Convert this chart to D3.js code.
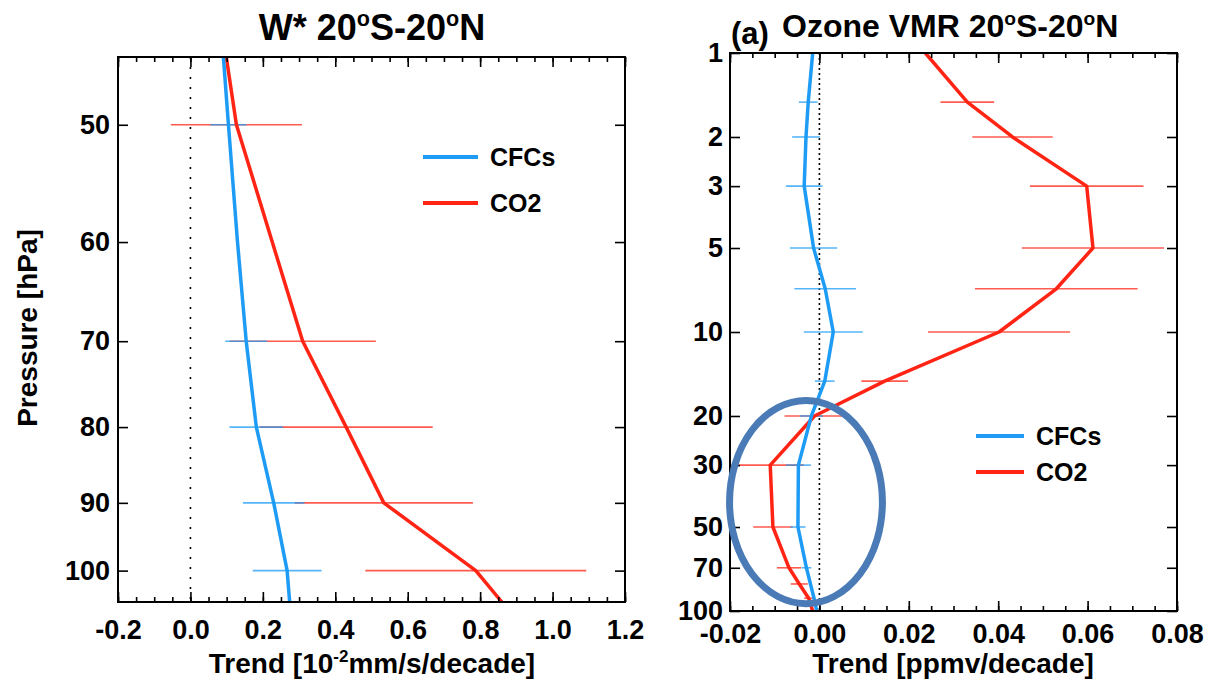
<!DOCTYPE html>
<html>
<head>
<meta charset="utf-8">
<script src="https://cdn.jsdelivr.net/npm/d3@7/dist/d3.min.js"></script>
<style>
  html, body { margin: 0; padding: 0; background: #fff; }
  svg { display: block; font-family: "Liberation Sans", Arial, Helvetica, sans-serif; font-weight: bold; }
</style>
</head>
<body>
<svg id="chart" width="1205" height="681"></svg>
<script>
// --- W* panel (left) ---
const wLevels = [45, 50, 60, 70, 80, 90, 100, 105];
const wCFC = [0.091, 0.105, 0.130, 0.154, 0.182, 0.230, 0.267, 0.274];
const wCO2 = [0.099, 0.127, 0.226, 0.310, 0.430, 0.534, 0.788, 0.860];
// half-widths of the error bars (null = none drawn)
const wCFCerr = [null, 0.050, null, 0.058, 0.074, 0.085, 0.095, null];
const wCO2err = [null, 0.181, null, 0.202, 0.239, 0.246, 0.305, null];
const wYTicks = [50, 60, 70, 80, 90, 100];
const wXTicks = [-0.2, 0.0, 0.2, 0.4, 0.6, 0.8, 1.0, 1.2];

// --- Ozone panel (right) ---
const oLevels = [1, 1.5, 2, 3, 5, 7, 10, 15, 20, 30, 50, 70, 80, 90, 100];
const oCFC = [-0.0015, -0.0025, -0.0030, -0.0034, -0.0013, 0.0013, 0.0031, 0.0012, -0.0018, -0.0047, -0.0048, -0.0029, -0.0020, -0.0012, -0.0006];
const oCO2 = [0.0237, 0.0331, 0.0432, 0.0598, 0.0612, 0.0530, 0.0402, 0.0146, -0.0011, -0.0110, -0.0104, -0.0068, -0.0045, -0.0024, -0.0015];
const oCFCerr = [null, 0.0021, 0.0031, 0.0041, 0.0053, 0.0069, 0.0066, 0.0022, 0.0026, 0.0028, 0.0017, 0.0011, null, null, null];
const oCO2err = [0.0030, 0.0060, 0.0090, 0.0127, 0.0159, 0.0182, 0.0159, 0.0052, 0.0067, 0.0075, 0.0044, 0.0027, 0.0019, 0.0010, null];
const oYTicks = [1, 2, 3, 5, 10, 20, 30, 50, 70, 100];
const oXTicks = [-0.02, 0.00, 0.02, 0.04, 0.06, 0.08];

// highlight ellipse (data units: centre trend, centre pressure, half-width trend, half-height decades)
const oEllipse = { x: -0.0030, p: 40.7, rx: 0.0171, rDec: 0.364 };

const seriesNames = ["CFCs", "CO2"];
const blue = "#1e9cf5";
const red = "#ff2414";

const svg = d3.select("#chart");

function drawPanel(cfg) {
  const x = d3.scaleLinear().domain(cfg.xDomain).range([cfg.left, cfg.right]);
  const y = d3.scaleLog().domain(cfg.yDomain).range([cfg.top, cfg.bottom]);
  const g = svg.append("g");

  const clipId = "clip" + cfg.id;
  svg.append("clipPath").attr("id", clipId)
    .append("rect")
    .attr("x", cfg.left).attr("y", cfg.top)
    .attr("width", cfg.right - cfg.left).attr("height", cfg.bottom - cfg.top);

  // zero line
  g.append("line")
    .attr("x1", x(0)).attr("x2", x(0))
    .attr("y1", cfg.top).attr("y2", cfg.bottom)
    .attr("stroke", "#000").attr("stroke-width", 1.6)
    .attr("stroke-dasharray", cfg.dash);

  const plot = g.append("g").attr("clip-path", `url(#${clipId})`);

  // error bars, red below blue
  const bars = (vals, errs, color) => {
    plot.append("g").selectAll("line")
      .data(cfg.levels.map((p, i) => ({ p, v: vals[i], e: errs[i] })).filter(d => d.e != null))
      .join("line")
      .attr("x1", d => x(d.v - d.e)).attr("x2", d => x(d.v + d.e))
      .attr("y1", d => y(d.p)).attr("y2", d => y(d.p))
      .attr("stroke", color).attr("stroke-width", 1.6).attr("stroke-opacity", 0.75);
  };
  bars(cfg.co2, cfg.co2err, red);
  bars(cfg.cfc, cfg.cfcerr, blue);

  const line = d3.line().x(d => x(d[1])).y(d => y(d[0]));
  plot.append("path")
    .datum(cfg.levels.map((p, i) => [p, cfg.co2[i]]))
    .attr("d", line).attr("fill", "none")
    .attr("stroke", red).attr("stroke-width", 3.5).attr("stroke-linejoin", "round");
  plot.append("path")
    .datum(cfg.levels.map((p, i) => [p, cfg.cfc[i]]))
    .attr("d", line).attr("fill", "none")
    .attr("stroke", blue).attr("stroke-width", 3.5).attr("stroke-linejoin", "round");

  // axes with inward ticks
  const minor = d3.range(cfg.xDomain[0], cfg.xDomain[1] + cfg.minorStep / 2, cfg.minorStep);
  const xb = g.append("g").attr("transform", `translate(0,${cfg.bottom})`)
    .call(d3.axisBottom(x).tickValues(cfg.xTicks).tickSize(-10).tickPadding(cfg.xPad)
      .tickFormat(d3.format(cfg.xFmt)));
  g.append("g").attr("transform", `translate(0,${cfg.bottom})`)
    .call(d3.axisBottom(x).tickValues(minor).tickSize(-5).tickFormat(""));
  g.append("g").attr("transform", `translate(0,${cfg.top})`)
    .call(d3.axisTop(x).tickValues(cfg.xTicks).tickSize(-10).tickFormat(""));
  g.append("g").attr("transform", `translate(0,${cfg.top})`)
    .call(d3.axisTop(x).tickValues(minor).tickSize(-5).tickFormat(""));
  g.append("g").attr("transform", `translate(${cfg.left},0)`)
    .call(d3.axisLeft(y).tickValues(cfg.yTicks).tickSize(-10).tickPadding(cfg.yPad)
      .tickFormat(d3.format("d")));
  g.append("g").attr("transform", `translate(${cfg.right},0)`)
    .call(d3.axisRight(y).tickValues(cfg.yTicks).tickSize(-10).tickFormat(""));

  g.selectAll(".domain").remove();
  g.selectAll(".tick line").attr("stroke", "#000").attr("stroke-width", 1.6);
  g.selectAll(".tick text").attr("fill", "#000")
    .attr("font-size", 27).attr("font-weight", "bold")
    .attr("font-family", '"Liberation Sans", Arial, sans-serif');
  xb.selectAll(".tick text").text(d => d < 0 ? "-" + d3.format(cfg.xFmt)(-d) : d3.format(cfg.xFmt)(d));

  // frame
  g.append("rect")
    .attr("x", cfg.left).attr("y", cfg.top)
    .attr("width", cfg.right - cfg.left).attr("height", cfg.bottom - cfg.top)
    .attr("fill", "none").attr("stroke", "#000").attr("stroke-width", 2);

  // legend
  const lg = g.append("g");
  [blue, red].forEach((c, i) => {
    const ly = cfg.legend.y + i * cfg.legend.gap;
    lg.append("line")
      .attr("x1", cfg.legend.x).attr("x2", cfg.legend.x + cfg.legend.len)
      .attr("y1", ly).attr("y2", ly)
      .attr("stroke", c).attr("stroke-width", 4);
    lg.append("text")
      .attr("x", cfg.legend.x + cfg.legend.len + 12).attr("y", ly + 9)
      .attr("font-size", 25).text(seriesNames[i]);
  });

  return { x, y, g };
}

const left = drawPanel({
  id: "w", left: 118, right: 625, top: 57, bottom: 602,
  xDomain: [-0.2, 1.2], yDomain: [45, 105], minorStep: 0.05,
  xTicks: wXTicks, yTicks: wYTicks, xFmt: ".1f", xPad: 18, yPad: 8,
  levels: wLevels, cfc: wCFC, co2: wCO2, cfcerr: wCFCerr, co2err: wCO2err,
  dash: "2,8",
  legend: { x: 423, y: 157, gap: 46, len: 55 }
});

const right = drawPanel({
  id: "o", left: 730, right: 1177, top: 53, bottom: 611,
  xDomain: [-0.02, 0.08], yDomain: [1, 100], minorStep: 0.005,
  xTicks: oXTicks, yTicks: oYTicks, xFmt: ".2f", xPad: 13, yPad: 7,
  levels: oLevels, cfc: oCFC, co2: oCO2, cfcerr: oCFCerr, co2err: oCO2err,
  dash: "2,3",
  legend: { x: 976, y: 436, gap: 36, len: 48 }
});

// highlight ellipse
{
  const { x, y, g } = right;
  const cy = y(oEllipse.p);
  g.append("ellipse")
    .attr("cx", x(oEllipse.x)).attr("cy", cy)
    .attr("rx", x(oEllipse.x + oEllipse.rx) - x(oEllipse.x))
    .attr("ry", y(oEllipse.p * Math.pow(10, oEllipse.rDec)) - cy)
    .attr("fill", "none").attr("stroke", "#4a7bb7").attr("stroke-width", 7);
}

// titles: "o" parts are raised small degree marks
function degreeText(sel, parts, size) {
  const up = size * 0.38;
  let raised = false;
  parts.forEach(p => {
    const t = sel.append("tspan").text(p);
    if (p === "o") {
      t.attr("font-size", size * 0.6).attr("dy", -up);
      raised = true;
    } else if (raised) {
      t.attr("dy", up);
      raised = false;
    }
  });
}
const t1 = svg.append("text").attr("x", 372).attr("y", 40)
  .attr("text-anchor", "middle").attr("font-size", 36);
degreeText(t1, ["W* 20", "o", "S-20", "o", "N"], 36);

svg.append("text").attr("x", 731).attr("y", 44).attr("font-size", 31).text("(a)");
const t2 = svg.append("text").attr("x", 782).attr("y", 37).attr("font-size", 32);
degreeText(t2, ["Ozone VMR 20", "o", "S-20", "o", "N"], 32);

// axis titles
const xl = svg.append("text").attr("x", 372).attr("y", 673)
  .attr("text-anchor", "middle").attr("font-size", 28);
xl.append("tspan").text("Trend [10");
xl.append("tspan").attr("font-size", 17).attr("dy", -11).text("-2");
xl.append("tspan").attr("dy", 11).text("mm/s/decade]");

svg.append("text").attr("x", 953).attr("y", 673)
  .attr("text-anchor", "middle").attr("font-size", 28).text("Trend [ppmv/decade]");

svg.append("text")
  .attr("transform", "translate(37,328) rotate(-90)")
  .attr("text-anchor", "middle").attr("font-size", 28).text("Pressure [hPa]");
</script>
</body>
</html>
